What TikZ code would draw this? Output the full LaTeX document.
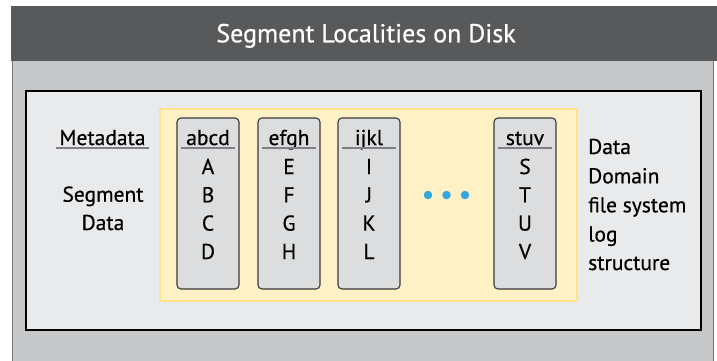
\documentclass[tikz,border=0pt]{standalone}
\usepackage{fontspec}
\setmainfont{PT Sans}[FakeBold=0.5]
\definecolor{hdr}{HTML}{58595B}
\definecolor{panel}{HTML}{C6C7C9}
\definecolor{panelline}{HTML}{77787B}
\definecolor{inner}{HTML}{E9EAEC}
\definecolor{yel}{HTML}{FFF1C6}
\definecolor{yelline}{HTML}{FFE38C}
\definecolor{colfill}{HTML}{DCDDDF}
\definecolor{colline}{HTML}{3A3A3A}
\definecolor{uline}{HTML}{7F8083}
\definecolor{dotc}{HTML}{33A8DF}
\tikzset{
  colbox/.style={draw=colline, fill=colfill, line width=1.1pt, rounded corners=4pt},
  lbl/.style={font=\fontsize{21.5}{21.5}\selectfont, inner sep=0pt, anchor=base},
  rlbl/.style={font=\fontsize{21.5}{21.5}\selectfont, inner sep=0pt, anchor=base west},
  ul/.style={draw=uline, line width=1.6pt},
  dotn/.style={circle, fill=dotc, minimum size=8.5pt, inner sep=0pt}
}
\begin{document}
\begin{tikzpicture}[x=1pt,y=-1pt]
\useasboundingbox (0,0) rectangle (717,360);
% gray panel
\fill[panel] (12,61) rectangle (713,361);
\draw[panelline, line width=1pt] (12,61) -- (12,361) (713,61) -- (713,361);
% header
\fill[hdr] (11,6) rectangle (717,61);
\node[font=\fontsize{26}{26}\selectfont, text=white, inner sep=0pt, anchor=base] (title) at (366,42.3) {Segment Localities on Disk};
% inner box
\draw[black, line width=2pt, fill=inner] (26,91) rectangle (701,330);
% yellow region
\draw[yelline, line width=2pt, fill=yel] (160,109) rectangle (577,301);
% columns
\foreach \n/\x/\h/\a/\b/\c/\d in {c1/208/abcd/A/B/C/D, c2/289/efgh/E/F/G/H, c3/369/ijkl/I/J/K/L, c4/525/stuv/S/T/U/V}{
  \draw[colbox] (\x-31,118) rectangle (\x+31,289);
  \node[lbl] (\n h) at (\x,145) {\h};
  \draw[ul] (\x-27,148) -- (\x+27,148);
  \node[lbl] (\n a) at (\x,174) {\a};
  \node[lbl] (\n b) at (\x,202.3) {\b};
  \node[lbl] (\n c) at (\x,230.6) {\c};
  \node[lbl] (\n d) at (\x,259) {\d};
}
% left labels
\node[lbl] (meta) at (102.5,145) {Metadata};
\draw[ul] (56,148) -- (149,148);
\node[lbl] (seg) at (103,201.7) {Segment};
\node[lbl] (data) at (103,230) {Data};
% dots
\node[dotn] (d1) at (428,195) {};
\node[dotn] (d2) at (446.5,195) {};
\node[dotn] (d3) at (465,195) {};
% right labels
\node[rlbl] (r1) at (588,154) {Data};
\node[rlbl] (r2) at (588,183.3) {Domain};
\node[rlbl] (r3) at (588,212.3) {file system};
\node[rlbl] (r4) at (588,241.5) {log};
\node[rlbl] (r5) at (588,270) {structure};
\end{tikzpicture}
\end{document}
